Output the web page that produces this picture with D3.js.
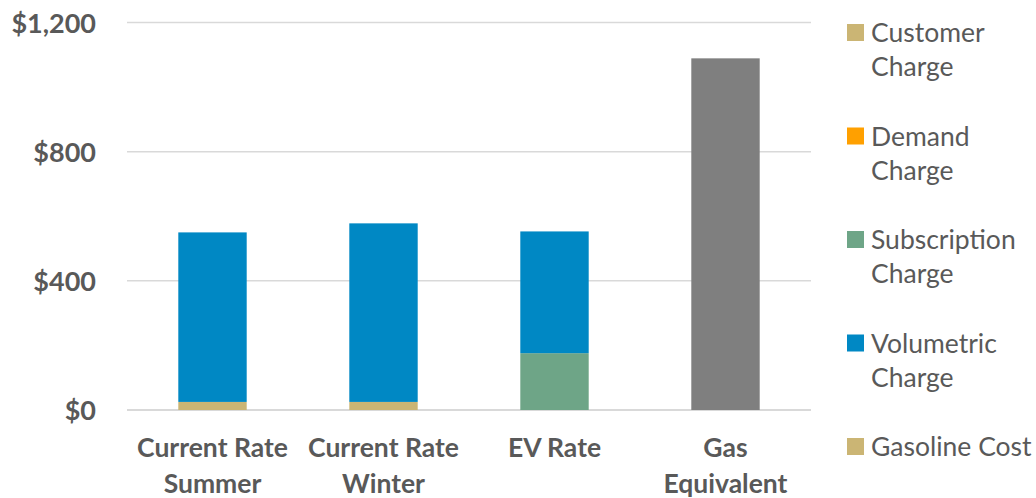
<!DOCTYPE html>
<html>
<head>
<meta charset="utf-8">
<script src="https://cdn.jsdelivr.net/npm/d3@7"></script>
<style>
  html, body { margin: 0; padding: 0; background: #fff; }
  svg { display: block; }
</style>
</head>
<body>
<svg id="chart" width="1036" height="498"></svg>
<script>
// Chart data
const categories = [["Current Rate", "Summer"], ["Current Rate", "Winter"], ["EV Rate"], ["Gas", "Equivalent"]];
const seriesNames = ["Customer Charge", "Demand Charge", "Subscription Charge", "Volumetric Charge", "Gasoline Cost"];
const customerCharge = [25, 25, 0, 0];
const demandCharge = [0, 0, 0, 0];
const subscriptionCharge = [0, 0, 176, 0];
const volumetricCharge = [525, 553, 377, 0];
const gasolineCost = [0, 0, 0, 1089];
const yTicks = [0, 400, 800, 1200];

const barColors = ["#cbb574", "#ffa000", "#6ea587", "#0088c4", "#7f7f7f"];
const legendColors = ["#cbb574", "#ffa000", "#6ea587", "#0088c4", "#cbb574"];
const legendLines = [["Customer", "Charge"], ["Demand", "Charge"], ["Subscription", "Charge"], ["Volumetric", "Charge"], ["Gasoline Cost"]];

const textColor = "#595959";
const font = "Lato, 'Open Sans', sans-serif";

const svg = d3.select("#chart");

const keys = categories.map((c) => c.join(" "));
const rows = keys.map((k, i) => ({
  key: k,
  "Customer Charge": customerCharge[i],
  "Demand Charge": demandCharge[i],
  "Subscription Charge": subscriptionCharge[i],
  "Volumetric Charge": volumetricCharge[i],
  "Gasoline Cost": gasolineCost[i],
}));

const x = d3.scaleBand().domain(keys).range([127, 811]).paddingInner(0.6).paddingOuter(0.3);
const y = d3.scaleLinear().domain([0, 1200]).range([410, 22.5]);

// gridlines
svg.append("g")
  .selectAll("line")
  .data(yTicks)
  .enter()
  .append("line")
  .attr("x1", 127)
  .attr("x2", 811)
  .attr("y1", (d) => y(d))
  .attr("y2", (d) => y(d))
  .attr("stroke", "#d9d9d9")
  .attr("stroke-width", (d) => (d === 0 ? 2 : 1.5));

// y axis labels
const yAxis = d3.axisLeft(y).tickValues(yTicks).tickSize(0).tickPadding(0)
  .tickFormat((d) => "$" + d3.format(",")(d));
const gy = svg.append("g").attr("transform", "translate(96,0)").call(yAxis);
gy.select(".domain").remove();
gy.selectAll("text")
  .attr("fill", textColor)
  .attr("font-family", font)
  .attr("font-weight", "bold")
  .attr("font-size", 27)
  .attr("dy", "0.36em");

// stacked bars
const stack = d3.stack().keys(seriesNames);
const stacked = stack(rows);

svg.append("g")
  .selectAll("g")
  .data(stacked)
  .enter()
  .append("g")
  .attr("fill", (d, i) => barColors[i])
  .selectAll("rect")
  .data((d) => d.filter((p) => p[1] - p[0] > 0))
  .enter()
  .append("rect")
  .attr("x", (d) => x(d.data.key))
  .attr("width", x.bandwidth())
  .attr("y", (d) => y(d[1]))
  .attr("height", (d) => y(d[0]) - y(d[1]));

// x category labels
const xl = svg.append("g")
  .selectAll("text")
  .data(categories)
  .enter()
  .append("text")
  .attr("x", (d, i) => x(keys[i]) + x.bandwidth() / 2)
  .attr("y", 457)
  .attr("text-anchor", "middle")
  .attr("fill", textColor)
  .attr("font-family", font)
  .attr("font-weight", "bold")
  .attr("font-size", 26.5);
xl.selectAll("tspan")
  .data((d) => d)
  .enter()
  .append("tspan")
  .attr("x", function () { return this.parentNode.getAttribute("x"); })
  .attr("dy", (d, i) => (i === 0 ? 0 : 36))
  .text((d) => d);

// legend
const legend = svg.append("g")
  .selectAll("g")
  .data(seriesNames)
  .enter()
  .append("g")
  .attr("transform", (d, i) => `translate(847,${24 + i * 103.5})`);

legend.append("rect")
  .attr("width", 17)
  .attr("height", 17)
  .attr("fill", (d, i) => legendColors[i]);

const lt = legend.append("text")
  .attr("x", 24)
  .attr("y", 18)
  .attr("fill", textColor)
  .attr("font-family", font)
  .attr("font-size", 26.5);
lt.selectAll("tspan")
  .data((d, i) => legendLines[i])
  .enter()
  .append("tspan")
  .attr("x", 24)
  .attr("dy", (d, i) => (i === 0 ? 0 : 34))
  .text((d) => d);
</script>
</body>
</html>
